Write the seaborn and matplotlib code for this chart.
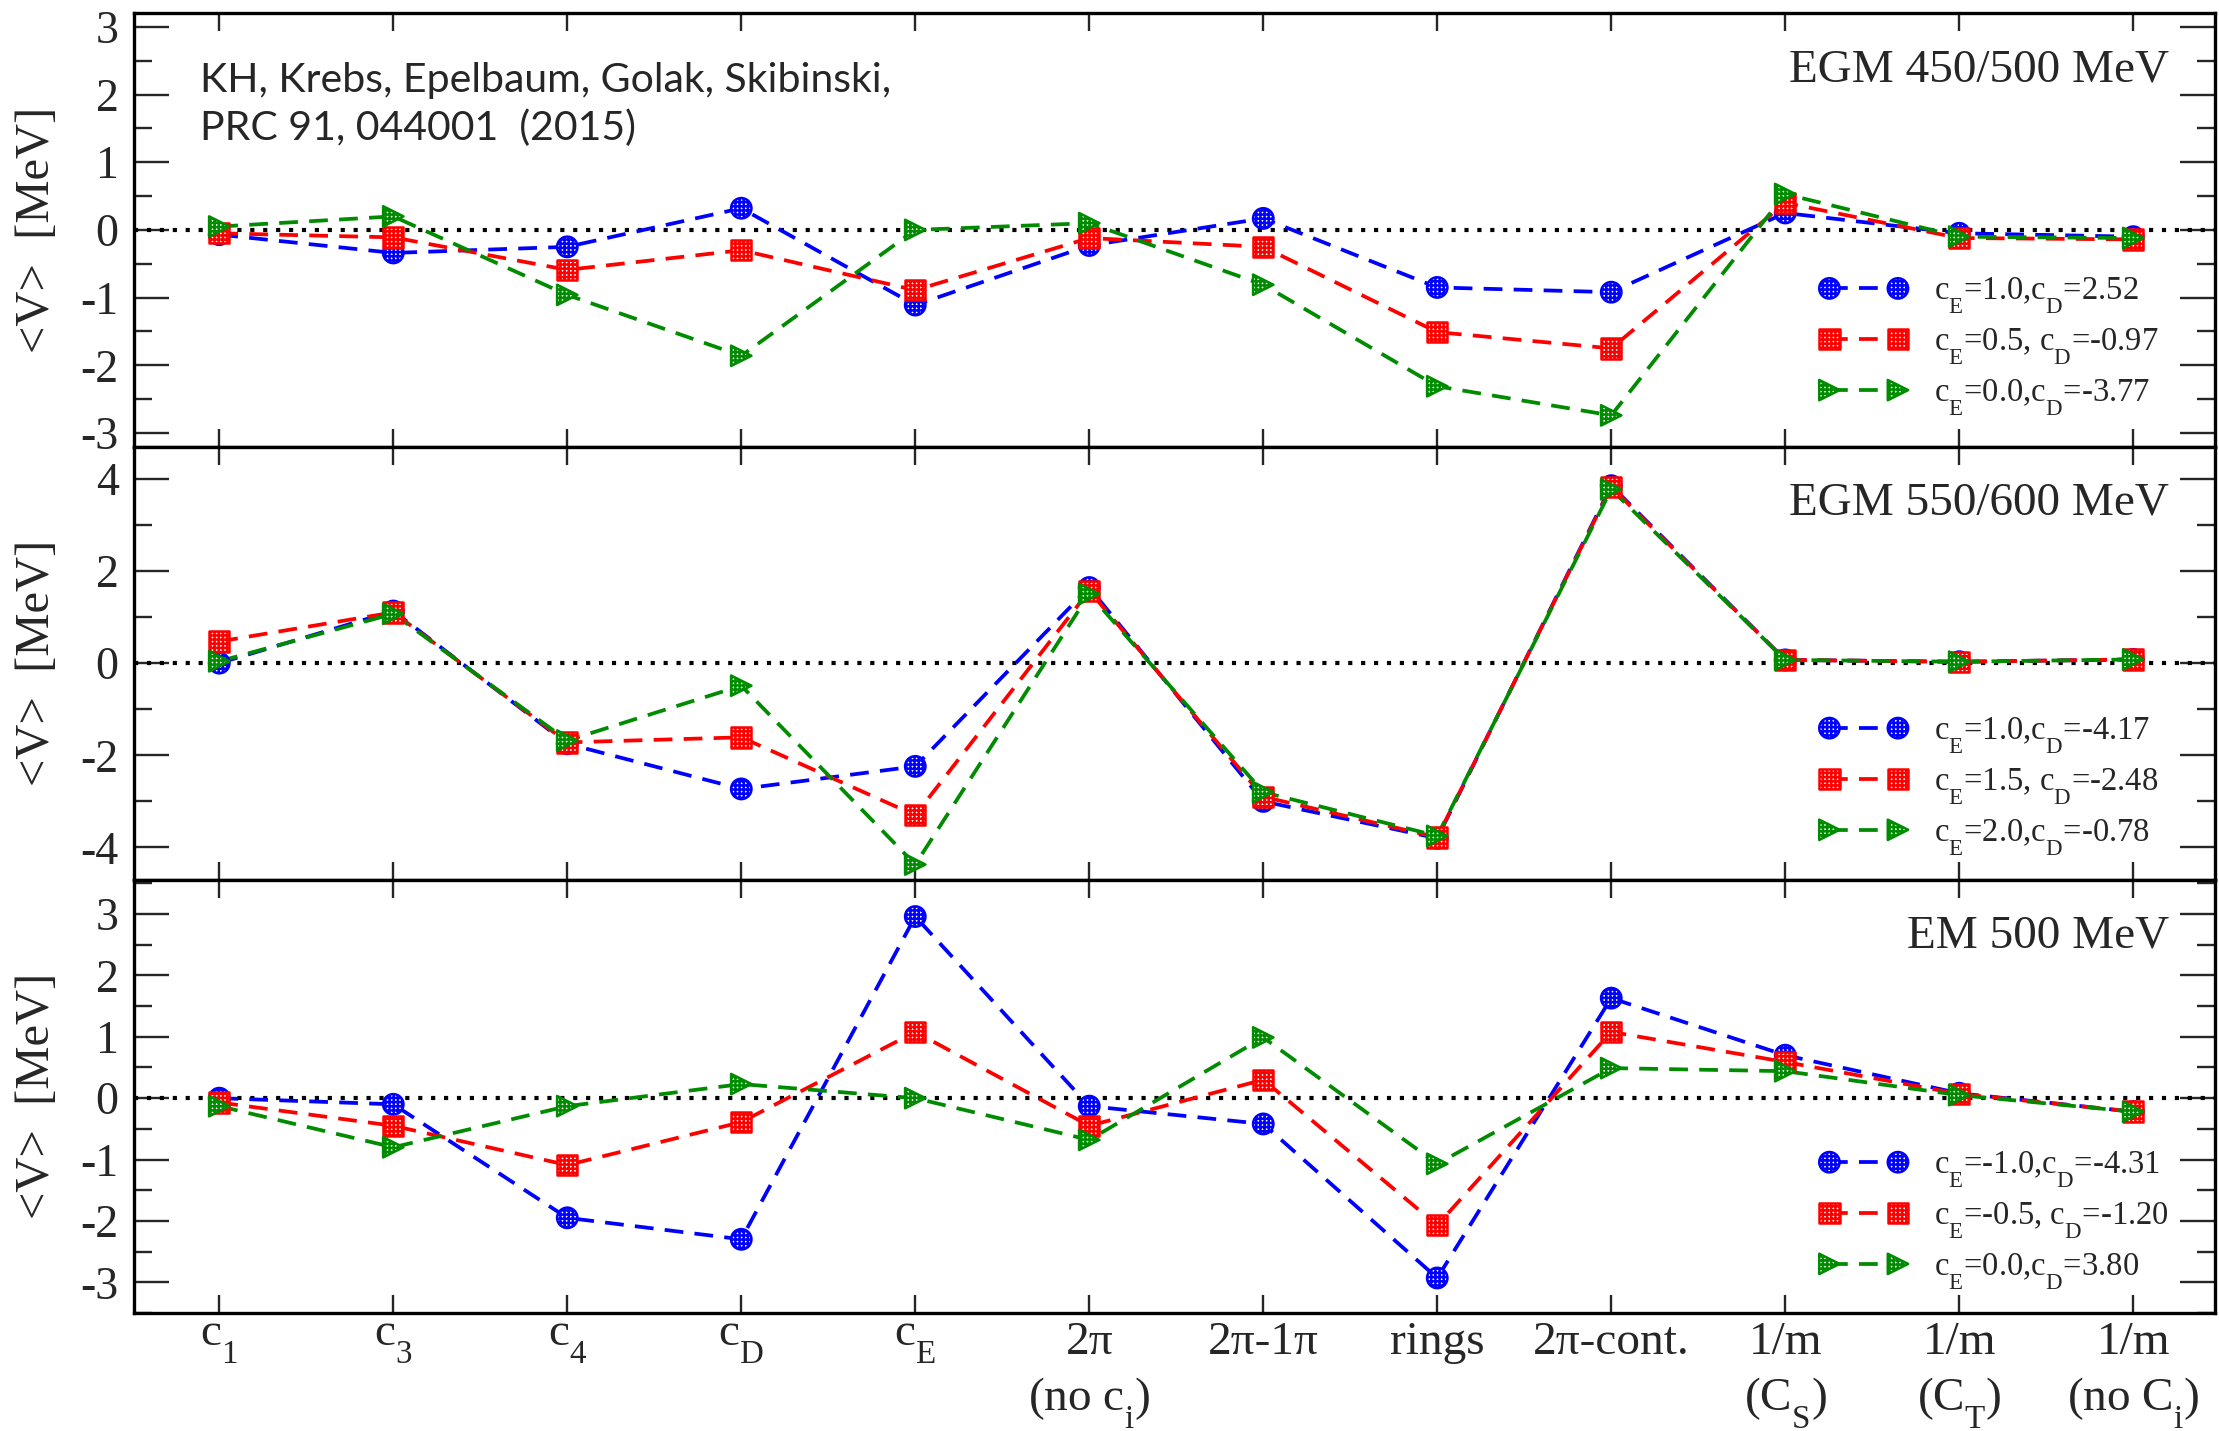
import numpy as np
import pandas as pd
import matplotlib
matplotlib.use("Agg")
import matplotlib.pyplot as plt
import seaborn as sns
from matplotlib.legend_handler import HandlerTuple
from matplotlib.collections import PathCollection
from matplotlib.ticker import MultipleLocator

# lower, xmgrace-like subscripts
try:
    from matplotlib import _mathtext as _mt
    _mt.FontConstantsBase.subdrop = 0.9
    _mt.FontConstantsBase.sub1 = 0.9
    _mt.FontConstantsBase.sub2 = 0.9
except Exception:
    pass

# ---------------- data ----------------
categories = ["c1", "c3", "c4", "cD", "cE", "2pi", "2pi-1pi", "rings",
              "2pi-cont", "1/m CS", "1/m CT", "1/m noCi"]
tick_labels = [r"c$_1$", r"c$_3$", r"c$_4$", r"c$_D$", r"c$_E$",
               "2π\n(no c$_i$)", "2π-1π", "rings", "2π-cont.",
               "1/m\n(C$_S$)", "1/m\n(C$_T$)", "1/m\n(no C$_i$)"]

# EGM 450/500 MeV
egm450_blue = [-0.07, -0.34, -0.25, 0.32, -1.11, -0.23, 0.17, -0.85, -0.92, 0.25, -0.05, -0.10]
egm450_red = [-0.05, -0.11, -0.59, -0.30, -0.89, -0.12, -0.25, -1.51, -1.75, 0.40, -0.12, -0.14]
egm450_green = [0.05, 0.20, -0.96, -1.86, 0.00, 0.10, -0.81, -2.31, -2.74, 0.53, -0.10, -0.12]
egm450_labels = [r"c$_E$=1.0,c$_D$=2.52", r"c$_E$=0.5, c$_D$=-0.97", r"c$_E$=0.0,c$_D$=-3.77"]

# EGM 550/600 MeV
egm550_blue = [0.00, 1.13, -1.75, -2.73, -2.24, 1.64, -3.00, -3.80, 3.85, 0.07, 0.03, 0.08]
egm550_red = [0.47, 1.10, -1.72, -1.61, -3.30, 1.57, -2.90, -3.78, 3.82, 0.07, 0.03, 0.08]
egm550_green = [0.04, 1.07, -1.68, -0.49, -4.37, 1.50, -2.80, -3.75, 3.77, 0.07, 0.03, 0.08]
egm550_labels = [r"c$_E$=1.0,c$_D$=-4.17", r"c$_E$=1.5, c$_D$=-2.48", r"c$_E$=2.0,c$_D$=-0.78"]

# EM 500 MeV
em500_blue = [0.00, -0.10, -1.95, -2.30, 2.96, -0.13, -0.42, -2.93, 1.63, 0.70, 0.08, -0.22]
em500_red = [-0.07, -0.45, -1.09, -0.39, 1.08, -0.45, 0.30, -2.07, 1.08, 0.59, 0.07, -0.22]
em500_green = [-0.13, -0.80, -0.13, 0.23, 0.00, -0.68, 0.99, -1.07, 0.49, 0.44, 0.05, -0.22]
em500_labels = [r"c$_E$=-1.0,c$_D$=-4.31", r"c$_E$=-0.5, c$_D$=-1.20", r"c$_E$=0.0,c$_D$=3.80"]

panel_titles = ["EGM 450/500 MeV", "EGM 550/600 MeV", "EM 500 MeV"]
citation = ["KH, Krebs, Epelbaum, Golak, Skibinski,", "PRC 91, 044001  (2015)"]

colors = ["#0000ff", "#ff0000", "#008b00"]
markers = ["o", "s", ">"]

# ---------------- style ----------------
sns.set_style("ticks")
plt.rcParams.update({
    "font.family": ["Liberation Serif", "DejaVu Serif"],
    "mathtext.fontset": "custom",
    "mathtext.rm": "Liberation Serif",
    "mathtext.it": "Liberation Serif",
    "mathtext.bf": "Liberation Serif:bold",
    "axes.unicode_minus": False,
    "hatch.linewidth": 1.8,
    "axes.linewidth": 2.4,
    "axes.edgecolor": "black",
})

fig = plt.figure(figsize=(22.19, 14.31), dpi=100)
gs = fig.add_gridspec(3, 1, left=0.0604, right=0.9982, top=0.9907, bottom=0.0825, hspace=0)
axes = [fig.add_subplot(gs[0])]
axes.append(fig.add_subplot(gs[1], sharex=axes[0]))
axes.append(fig.add_subplot(gs[2], sharex=axes[0]))

panels = [
    (egm450_blue, egm450_red, egm450_green, egm450_labels, (-3.2, 3.2), 1, 0.5, 0.066),
    (egm550_blue, egm550_red, egm550_green, egm550_labels, (-4.7, 4.7), 2, 1, 0.051),
    (em500_blue, em500_red, em500_green, em500_labels, (-3.5, 3.56), 1, 0.5, 0.049),
]

x_pos = np.arange(len(categories))
dash = (0, (5.0, 3.0))

for i, (ax, panel) in enumerate(zip(axes, panels)):
    blue, red, green, labels, ylim, major, minor, leg_y = panel
    ax.axhline(0, color="black", lw=3.0, linestyle=(0, (1, 2.1)), zorder=1.5)
    handles = []
    for k, vals in enumerate([blue, red, green]):
        df = pd.DataFrame({"x": x_pos, "y": vals})
        sns.lineplot(data=df, x="x", y="y", ax=ax, color=colors[k], lw=2.7,
                     linestyle=dash, zorder=2 + 0.1 * k, legend=False)
        line = ax.lines[-1]
        sns.scatterplot(data=df, x="x", y="y", ax=ax, color="white",
                        edgecolor=colors[k], marker=markers[k], s=215,
                        linewidth=1.8, hatch="++++", zorder=3 + 0.1 * k,
                        legend=False)
        coll = ax.collections[-1]
        handles.append((line, coll))

    leg = ax.legend(handles=handles, labels=labels,
                    handler_map={tuple: HandlerTuple(ndivide=1, pad=0)},
                    scatterpoints=2, numpoints=2, scatteryoffsets=[0.5],
                    loc="lower left", bbox_to_anchor=(0.810, leg_y),
                    frameon=False, borderpad=0, borderaxespad=0,
                    handlelength=2.7, handletextpad=0.8, labelspacing=0.32,
                    fontsize=23.5)
    for c in leg.findobj(PathCollection):
        ec = c.get_edgecolor()
        c.set_hatch("++++")
        c.set_edgecolor(ec)

    ax.set_ylim(*ylim)
    ax.yaxis.set_major_locator(MultipleLocator(major))
    ax.yaxis.set_minor_locator(MultipleLocator(minor))
    ax.set_xlim(-0.49, 11.47)
    ax.set_xlabel("")
    ax.set_ylabel("<V>  [MeV]", fontsize=35)
    ax.yaxis.set_label_coords(-0.036, 0.5)
    for sp in ax.spines.values():
        sp.set_visible(True)
        sp.set_linewidth(2.4)
    ax.tick_params(axis="x", which="major", direction="in", length=13, width=1.7,
                   top=True, bottom=True, labelsize=34, pad=6)
    ax.tick_params(axis="y", which="major", direction="in", length=25, width=1.7,
                   left=True, right=True, labelsize=33, pad=11)
    ax.tick_params(axis="y", which="minor", direction="in", length=13, width=1.7,
                   left=True, right=True)
    ax.text(0.978, 0.843, panel_titles[i], transform=ax.transAxes,
            ha="right", va="baseline", fontsize=34)
    if i < 2:
        ax.tick_params(axis="x", labelbottom=False)

axes[0].text(0.0317, 0.818, citation[0], transform=axes[0].transAxes,
             ha="left", va="baseline", fontsize=29.5, family=["Lato", "DejaVu Sans"])
axes[0].text(0.0317, 0.707, citation[1], transform=axes[0].transAxes,
             ha="left", va="baseline", fontsize=29.5, family=["Lato", "DejaVu Sans"])

axes[2].set_xticks(x_pos)
axes[2].set_xticklabels(tick_labels)
for lbl in axes[2].get_xticklabels():
    lbl.set_linespacing(1.32)

fig.savefig("out.png", dpi=100)
